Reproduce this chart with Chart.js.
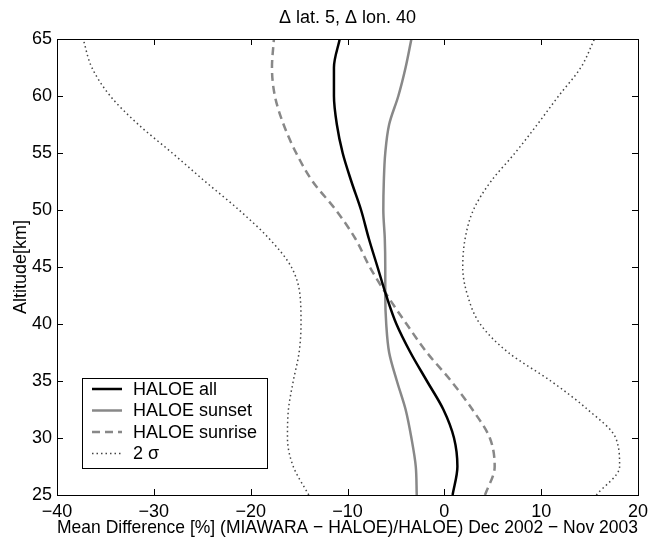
<!DOCTYPE html>
<html>
<head>
<meta charset="utf-8">
<script src="https://cdn.jsdelivr.net/npm/chart.js@4/dist/chart.umd.min.js"></script>
<style>
    html, body { margin: 0; padding: 0; background: white; }
    canvas { display: block; }
</style>
</head>
<body>
<canvas id="chart" width="664" height="539"></canvas>
<script>
// altitude levels [km] shared by all profiles
const altitudes = [25, 27.5, 30, 32.5, 35, 37.5, 40, 42.5, 45, 47.5, 50, 52.5, 55, 57.5, 60, 62.5, 65];

// mean differences [%]
const haloeAll = [0.85, 1.35, 1.0, -0.1, -1.8, -3.5, -4.95, -6.0, -6.9, -7.8, -8.6, -9.6, -10.5, -11.1, -11.4, -11.4, -10.8];
const haloeSunset = [-2.85, -2.95, -3.4, -4.0, -4.9, -5.7, -6.0, -6.1, -6.1, -6.15, -6.3, -6.25, -6.1, -5.7, -4.75, -4.0, -3.4];
const haloeSunrise = [4.2, 5.2, 4.7, 2.9, 0.7, -1.8, -3.9, -5.9, -7.7, -9.2, -11.2, -13.6, -15.3, -16.6, -17.5, -17.8, -17.6];
const sigmaLow = [-14.0, -15.6, -16.2, -16.1, -15.6, -15.0, -14.8, -14.9, -15.8, -18.1, -21.2, -24.7, -28.1, -31.6, -34.5, -36.4, -37.3];
const sigmaHigh = [15.7, 18.1, 17.7, 14.8, 11.0, 6.6, 3.7, 2.4, 1.9, 2.15, 3.0, 4.8, 7.3, 9.6, 11.8, 14.1, 15.5];

const xTicks = [-40, -30, -20, -10, 0, 10, 20];
const yTicks = [25, 30, 35, 40, 45, 50, 55, 60, 65];

const TITLE = '\u0394 lat. 5, \u0394 lon. 40';
const FONT = 'Liberation Sans, Arial, Helvetica, sans-serif';
const FONT_SIZE = 18;

function profile(values) {
    return values.map((v, i) => ({ x: v, y: altitudes[i] }));
}

function series(label, values, color, width, dash, inLegend = true) {
    return {
        label: label,
        data: profile(values),
        borderColor: color,
        borderWidth: width,
        borderDash: dash,
        showLine: true,
        pointRadius: 0,
        cubicInterpolationMode: 'monotone',
        inLegend: inLegend
    };
}

// box round the plot with MATLAB-style inward ticks, title centred on the plot
const frame = {
    id: 'frame',
    afterDatasetsDraw(chart) {
        const { ctx, chartArea: a, scales } = chart;
        const len = 6;
        ctx.save();
        ctx.strokeStyle = '#000';
        ctx.lineWidth = 1;
        for (let v of xTicks) {
            const x = Math.round(scales.x.getPixelForValue(v)) + 0.5;
            ctx.beginPath();
            ctx.moveTo(x, a.bottom); ctx.lineTo(x, a.bottom - len);
            ctx.moveTo(x, a.top); ctx.lineTo(x, a.top + len);
            ctx.stroke();
        }
        for (let v of yTicks) {
            const y = Math.round(scales.y.getPixelForValue(v)) + 0.5;
            ctx.beginPath();
            ctx.moveTo(a.left, y); ctx.lineTo(a.left + len, y);
            ctx.moveTo(a.right, y); ctx.lineTo(a.right - len, y);
            ctx.stroke();
        }
        ctx.strokeRect(Math.round(a.left) + 0.5, Math.round(a.top) + 0.5,
            Math.round(a.right - a.left), Math.round(a.bottom - a.top));

        ctx.fillStyle = '#000';
        ctx.font = FONT_SIZE + 'px ' + FONT;
        ctx.textAlign = 'center';
        ctx.textBaseline = 'middle';
        ctx.fillText(TITLE, (a.left + a.right) / 2, 18);
        ctx.restore();
    }
};

// legend box in the lower left corner of the plot
const legendBox = {
    id: 'legendBox',
    afterDatasetsDraw(chart) {
        const { ctx, chartArea: a } = chart;
        const items = chart.data.datasets.filter(d => d.inLegend);
        const left = a.left + 25, width = 185;
        const rowH = 21.5, height = 90;
        const top = a.bottom - 27 - height;

        ctx.save();
        ctx.fillStyle = '#fff';
        ctx.fillRect(left, top, width, height);
        ctx.strokeStyle = '#000';
        ctx.lineWidth = 1;
        ctx.strokeRect(Math.round(left) + 0.5, Math.round(top) + 0.5, width, height);

        ctx.font = FONT_SIZE + 'px ' + FONT;
        ctx.textBaseline = 'middle';
        items.forEach((d, i) => {
            const y = top + 11 + rowH * i;
            ctx.strokeStyle = d.borderColor;
            ctx.lineWidth = d.borderWidth;
            ctx.setLineDash(d.borderDash || []);
            ctx.beginPath();
            ctx.moveTo(left + 10, y);
            ctx.lineTo(left + 40, y);
            ctx.stroke();
            ctx.setLineDash([]);
            ctx.fillStyle = '#000';
            ctx.fillText(d.label, left + 51, y + 1);
        });
        ctx.restore();
    }
};

const sigmaColor = '#444';

new Chart(document.getElementById('chart'), {
    type: 'scatter',
    data: {
        datasets: [
            series('HALOE all', haloeAll, '#000', 2.5, []),
            series('HALOE sunset', haloeSunset, '#888', 2.5, []),
            series('HALOE sunrise', haloeSunrise, '#888', 2.5, [8, 5]),
            series('2 \u03c3', sigmaLow, sigmaColor, 1.5, [1.5, 3]),
            series('2 \u03c3 high', sigmaHigh, sigmaColor, 1.5, [1.5, 3], false)
        ]
    },
    options: {
        responsive: false,
        animation: false,
        indexAxis: 'y',
        layout: { padding: { left: 0, right: 26, top: 39, bottom: 0 } },
        plugins: {
            legend: { display: false },
            tooltip: { enabled: false },
            title: { display: false }
        },
        scales: {
            x: {
                type: 'linear',
                position: 'bottom',
                min: -40,
                max: 20,
                afterBuildTicks: s => { s.ticks = xTicks.map(v => ({ value: v })); },
                afterFit: s => { s.height = 44; },
                grid: { display: false, drawTicks: false },
                border: { display: false },
                ticks: {
                    color: '#000',
                    padding: 6,
                    maxRotation: 0,
                    font: { family: FONT, size: FONT_SIZE },
                    callback: v => String(v).replace('-', '\u2212')
                },
                title: {
                    display: true,
                    text: 'Mean Difference [%] (MIAWARA \u2212 HALOE)/HALOE) Dec 2002 \u2212 Nov 2003',
                    color: '#000',
                    font: { family: FONT, size: 19 },
                    padding: { top: 0, bottom: 0 }
                }
            },
            y: {
                type: 'linear',
                position: 'left',
                min: 25,
                max: 65,
                afterBuildTicks: s => { s.ticks = yTicks.map(v => ({ value: v })); },
                afterFit: s => { s.width = 57; },
                grid: { display: false, drawTicks: false },
                border: { display: false },
                ticks: {
                    color: '#000',
                    padding: 5,
                    font: { family: FONT, size: FONT_SIZE }
                },
                title: {
                    display: true,
                    text: 'Altitude[km]',
                    color: '#000',
                    font: { family: FONT, size: FONT_SIZE },
                    padding: { top: 10, bottom: 0 }
                }
            }
        }
    },
    plugins: [frame, legendBox]
});
</script>
</body>
</html>
